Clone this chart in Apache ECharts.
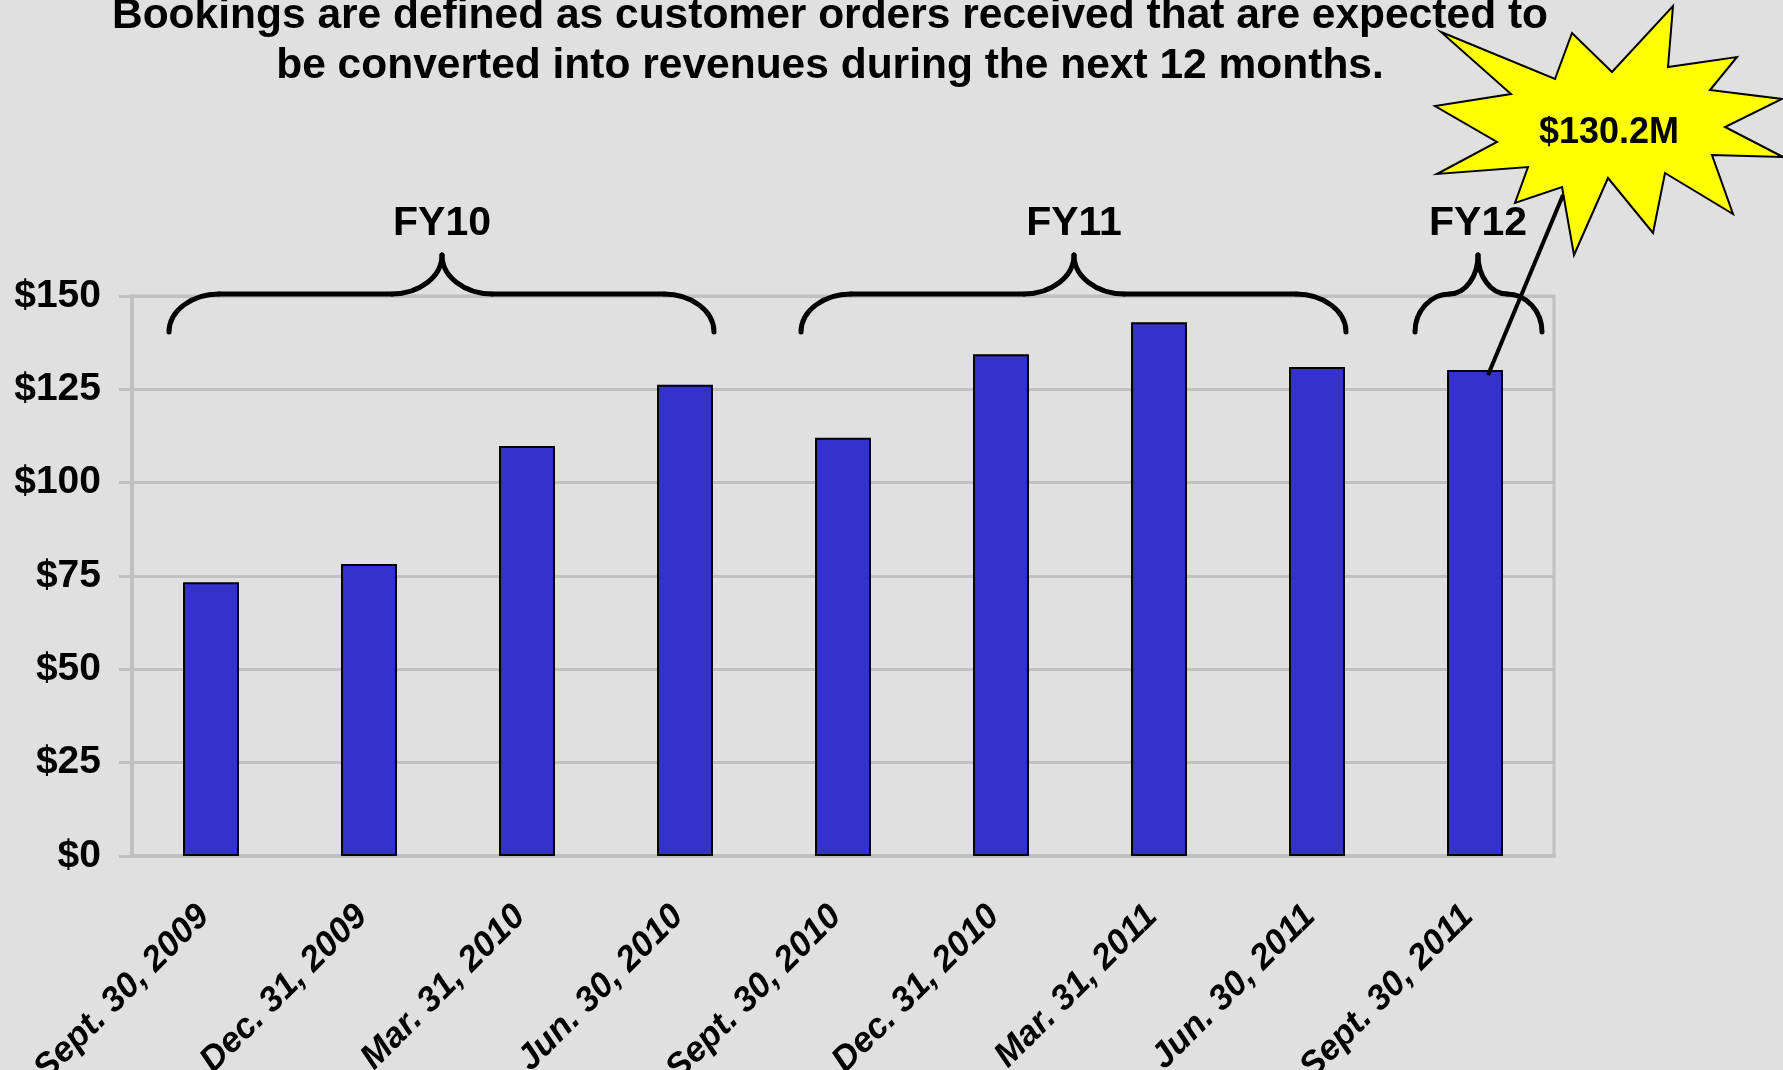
<!DOCTYPE html>
<html>
<head>
<meta charset="utf-8">
<script src="https://cdn.jsdelivr.net/npm/echarts@6/dist/echarts.min.js"></script>
<style>
  html, body { margin: 0; padding: 0; background: #e0e0e0; }
  #chart { width: 1783px; height: 1070px; }
</style>
</head>
<body>
<div id="chart"></div>
<script>
// quarter ends and bookings ($M)
const categories = ['Sept. 30, 2009', 'Dec. 31, 2009', 'Mar. 31, 2010', 'Jun. 30, 2010',
  'Sept. 30, 2010', 'Dec. 31, 2010', 'Mar. 31, 2011', 'Jun. 30, 2011', 'Sept. 30, 2011'];
const bookings = [73.3, 78.2, 109.8, 126.2, 112.0, 134.4, 143.0, 131.0, 130.2];

// fiscal year groups (first / last category index)
const fyLabels = ['FY10', 'FY11', 'FY12'];
const fyFirst = [0, 4, 8];
const fyLast = [3, 7, 8];

const calloutIndex = 8;
const calloutText = '$130.2M';
const titleLines = ['Bookings are defined as customer orders received that are expected to',
  'be converted into revenues during the next 12 months.'];

const FONT = '"Liberation Sans", Arial, sans-serif';
const GRID_GRAY = '#c0c0c0';

const chart = echarts.init(document.getElementById('chart'));

const option = {
  backgroundColor: '#e0e0e0',
  animation: false,
  grid: {
    left: 132, right: 229, top: 296, bottom: 214,
    show: true, borderColor: GRID_GRAY, borderWidth: 3,
    outerBoundsMode: 'none'
  },
  xAxis: {
    type: 'category',
    data: categories,
    axisLine: { lineStyle: { color: GRID_GRAY, width: 4 } },
    axisTick: { length: 12, lineStyle: { color: GRID_GRAY, width: 3 } },
    axisLabel: {
      rotate: 45, margin: 48, interval: 0, padding: [0, 10, 0, 0],
      color: '#000', fontFamily: FONT, fontSize: 35,
      fontWeight: 'bold', fontStyle: 'italic'
    }
  },
  yAxis: {
    type: 'value',
    min: 0, max: 150, interval: 25,
    axisLine: { show: true, lineStyle: { color: GRID_GRAY, width: 4 } },
    axisTick: { show: true, length: 13, lineStyle: { color: GRID_GRAY, width: 3 } },
    splitLine: { lineStyle: { color: GRID_GRAY, width: 3 } },
    axisLabel: {
      margin: 31, color: '#000', fontFamily: FONT, fontSize: 39, fontWeight: 'bold',
      formatter: v => '$' + v
    }
  },
  series: [{
    type: 'bar',
    data: bookings,
    barWidth: '35.4%',
    itemStyle: { color: '#3333cc', borderColor: '#000', borderWidth: 2 }
  }]
};
chart.setOption(option);

// braces, labels and callout built from the axis positions
function braceParts(x0, x1, cx) {
  const yTop = 255, yMid = 294, yEnd = 332;
  const k = 0.5523;
  const rL = Math.min(50, (cx - x0) * 0.55), r2L = Math.min(50, cx - x0 - rL);
  const rR = Math.min(50, (x1 - cx) * 0.55), r2R = Math.min(50, x1 - cx - rR);
  const ry = yEnd - yMid, ry2 = yMid - yTop;
  const curves = [
    { x1: x0, y1: yEnd, cpx1: x0, cpy1: yEnd - k * ry, cpx2: x0 + rL - k * rL, cpy2: yMid, x2: x0 + rL, y2: yMid },
    { x1: cx - r2L, y1: yMid, cpx1: cx - r2L + k * r2L, cpy1: yMid, cpx2: cx, cpy2: yTop + k * ry2, x2: cx, y2: yTop },
    { x1: cx, y1: yTop, cpx1: cx, cpy1: yTop + k * ry2, cpx2: cx + r2R - k * r2R, cpy2: yMid, x2: cx + r2R, y2: yMid },
    { x1: x1 - rR, y1: yMid, cpx1: x1 - rR + k * rR, cpy1: yMid, cpx2: x1, cpy2: yEnd - k * ry, x2: x1, y2: yEnd }
  ];
  const lines = [
    { x1: x0 + rL, y1: yMid, x2: cx - r2L, y2: yMid },
    { x1: cx + r2R, y1: yMid, x2: x1 - rR, y2: yMid }
  ];
  const style = { stroke: '#000', lineWidth: 5, fill: null, lineCap: 'round' };
  return curves.map(s => ({ type: 'bezierCurve', shape: s, style, z: 10 }))
    .concat(lines.map(s => ({ type: 'line', shape: s, style, z: 10 })));
}

const px = i => chart.convertToPixel({ xAxisIndex: 0 }, i);
const graphics = [];

graphics.push({
  type: 'text', z: 20,
  style: {
    text: titleLines.join('\n'), x: 830, y: 41,
    align: 'center', verticalAlign: 'middle', lineHeight: 50,
    font: 'bold 42.5px ' + FONT, fill: '#000'
  }
});

fyLabels.forEach((label, g) => {
  const a = px(fyFirst[g]), b = px(fyLast[g]);
  const single = fyFirst[g] === fyLast[g];
  const x0 = a - (single ? 60 : 42);
  const x1 = b + (single ? 67 : 29);
  const cx = single ? a + 3 : (a + b) / 2 - 6;
  graphics.push(...braceParts(x0, x1, cx));
  graphics.push({
    type: 'text', z: 30,
    style: { text: label, x: cx, y: 224, align: 'center', verticalAlign: 'middle',
      font: 'bold 41px ' + FONT, fill: '#000' }
  });
});

// starburst callout
const star = [[1441, 32], [1555, 79], [1572, 33], [1612, 72], [1673, 6], [1668, 67],
  [1737, 57], [1710, 90], [1782, 99], [1725, 127], [1783, 157], [1712, 155],
  [1733, 214], [1665, 173], [1653, 233], [1608, 178], [1574, 255], [1562, 187],
  [1515, 203], [1528, 167], [1437, 174], [1497, 142], [1435, 106], [1511, 94]];
graphics.push({
  type: 'polygon', z: 15,
  shape: { points: star },
  style: { fill: '#ffff00', stroke: '#000', lineWidth: 2 }
});
graphics.push({
  type: 'text', z: 25,
  style: { text: calloutText, x: 1609, y: 133, align: 'center', verticalAlign: 'middle',
    font: 'bold 36px ' + FONT, fill: '#000' }
});
const tip = chart.convertToPixel({ gridIndex: 0 }, [calloutIndex, bookings[calloutIndex]]);
graphics.push({
  type: 'line', z: 16,
  shape: { x1: tip[0] + 13, y1: tip[1] + 5, x2: 1563, y2: 195 },
  style: { stroke: '#000', lineWidth: 4 }
});

chart.setOption({ graphic: { elements: graphics } });
</script>
</body>
</html>
